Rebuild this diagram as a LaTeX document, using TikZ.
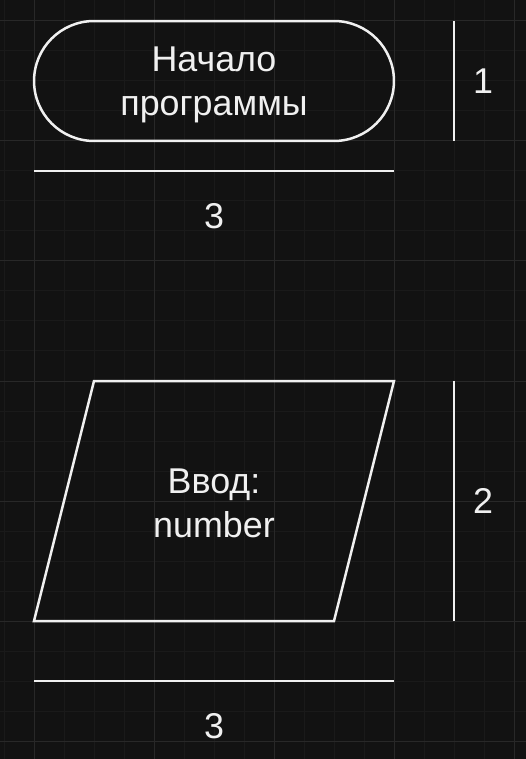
\documentclass[tikz,border=0pt]{standalone}
\usepackage{fontspec}
\setmainfont{Liberation Sans}
\usetikzlibrary{shapes.misc}

\definecolor{Back}{HTML}{121212}
\definecolor{MinorLine}{HTML}{1A1A1A}
\definecolor{MajorLine}{HTML}{282828}
\definecolor{Ink}{HTML}{F0F0F0}
\newcommand{\bigtext}{\fontsize{20.4pt}{25pt}\selectfont}

\begin{document}
\begin{tikzpicture}
          [
          x=0.02cm, y=-0.02cm,
          Term/.style={rounded rectangle, draw=Ink, line width=0.05cm, minimum width=7.2cm, minimum height=2.4cm, inner sep=0pt},
          Label/.style={text=Ink, align=center, font=\bigtext, inner sep=0pt},
          Dim/.style={draw=Ink, line width=0.05cm},
          Minor/.style={draw=MinorLine, line width=0.02cm},
          Major/.style={draw=MajorLine, line width=0.02cm},
          ]
          % Background and grid
          \fill[Back] (0,0) rectangle (526,759);
          \useasboundingbox (0,0) rectangle (526,759);
          \foreach \x in {4,34,...,514} \draw[Minor] (\x,0) -- (\x,759);
          \foreach \y in {21,51,...,741} \draw[Minor] (0,\y) -- (526,\y);
          \foreach \x in {34,154,...,514} \draw[Major] (\x,0) -- (\x,759);
          \foreach \y in {21,141,...,741} \draw[Major] (0,\y) -- (526,\y);

          % Nodes
          \node[Term] (Start) at (214, 81) {};
          \node[Label] (StartText) at (214, 85) {Начало\\программы};
          \draw[Dim] (94,381) -- (394,381) -- (334,621) -- (34,621) -- cycle;
          \node[Label] (Input) at (214, 503) {Ввод:\\number};
          \node[Label] (WidthA) at (214, 216) {3};
          \node[Label] (HeightA) at (483, 81) {1};
          \node[Label] (HeightB) at (483, 501) {2};
          \node[Label] (WidthB) at (214, 726) {3};

          % Lines
          \draw[Dim] (34,171) -- (394,171);
          \draw[Dim] (454,21) -- (454,141);
          \draw[Dim] (454,381) -- (454,621);
          \draw[Dim] (34,681) -- (394,681);
\end{tikzpicture}
\end{document}
